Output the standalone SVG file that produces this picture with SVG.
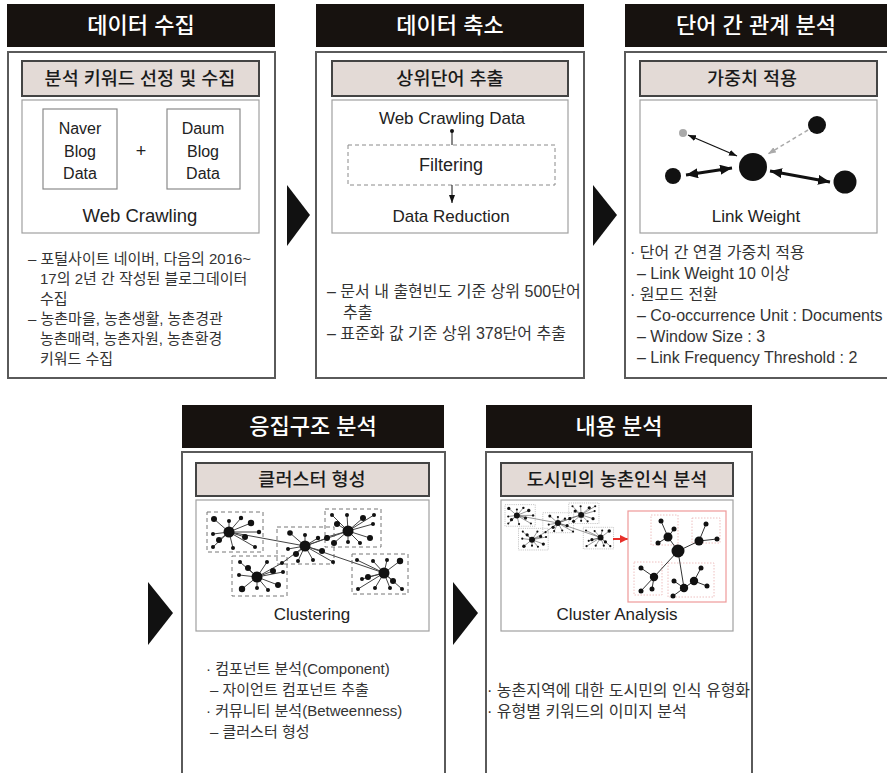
<svg xmlns="http://www.w3.org/2000/svg" xmlns:xlink="http://www.w3.org/1999/xlink" width="887" height="773" viewBox="0 0 887 773">
  <style>
    .hdr { fill: #17120f; }
    .hdr-t { fill: #ffffff; font-family: "Liberation Sans", "Noto Sans CJK KR", sans-serif; font-size: 22px; font-weight: 500; text-anchor: middle; }
    .panel { fill: #ffffff; stroke: #5a5a5a; stroke-width: 2; }
    .sub { fill: #e3dad6; stroke: #444; stroke-width: 2; }
    .sub-t { fill: #1a1a1a; font-family: "Liberation Sans", "Noto Sans CJK KR", sans-serif; font-size: 18.5px; font-weight: 500; text-anchor: middle; }
    .inner { fill: #ffffff; stroke: #a0a0a0; stroke-width: 1.2; }
    .lbl { fill: #222; font-family: "Liberation Sans", "Noto Sans CJK KR", sans-serif; font-size: 17px; text-anchor: middle; }
    .body { fill: #333; font-family: "Liberation Sans", "Noto Sans CJK KR", sans-serif; font-size: 15px; }
    .body-l { font-size: 16px; }
    .src { fill: #ffffff; stroke: #8a8a8a; stroke-width: 1.2; }
    .box { fill: none; }
  </style>
  <defs>
    <marker id="headBig" markerUnits="userSpaceOnUse" viewBox="0 0 12 10" refX="12" refY="5" markerWidth="12" markerHeight="10" orient="auto-start-reverse">
      <path d="M0,0 L12,5 L0,10 Z" fill="#111"/>
    </marker>
    <marker id="headSmall" markerUnits="userSpaceOnUse" viewBox="0 0 8 6" refX="8" refY="3" markerWidth="8" markerHeight="6" orient="auto-start-reverse">
      <path d="M0,0 L8,3 L0,6 Z" fill="#111"/>
    </marker>
    <marker id="headGray" markerUnits="userSpaceOnUse" viewBox="0 0 8 6" refX="8" refY="3" markerWidth="8" markerHeight="6" orient="auto">
      <path d="M0,0 L8,3 L0,6 Z" fill="#aaa"/>
    </marker>
    <marker id="headRed" markerUnits="userSpaceOnUse" viewBox="0 0 8 8" refX="8" refY="4" markerWidth="8" markerHeight="8" orient="auto">
      <path d="M0,0 L8,4 L0,8 Z" fill="#e8302a"/>
    </marker>

    <!-- network of five star clusters; box strokes come from the referencing <use> -->
    <g id="net">
      <g class="box">
        <rect x="207" y="512" width="56" height="40"/>
        <rect x="277" y="527" width="57" height="37"/>
        <rect x="325" y="509" width="56" height="38"/>
        <rect x="232" y="556" width="55" height="40"/>
        <rect x="352" y="554" width="56" height="40"/>
      </g>
      <g stroke="#444" stroke-width="1" fill="none" stroke-dasharray="none">
        <path d="M229,532 L305,546 M305,546 L348,531 M305,546 L384,573 M305,546 L282,563"/>
        <path d="M229,532 L214,519 M229,532 L229,521 M229,532 L241,518 M229,532 L251,523 M229,532 L213,534 M229,532 L219,540 M229,532 L213,547 M229,532 L233,548 M229,532 L245,537 M229,532 L255,547 M229,532 L259,532"/>
        <path d="M305,546 L290,533 M305,546 L305,535 M305,546 L318,538 M305,546 L327,538 M305,546 L288,549 M305,546 L296,554 M305,546 L298,561 M305,546 L313,560 M305,546 L322,551 M305,546 L333,562"/>
        <path d="M348,531 L332,515 M348,531 L347,515 M348,531 L363,518 M348,531 L374,515 M348,531 L337,524 M348,531 L373,524 M348,531 L334,543 M348,531 L348,542 M348,531 L360,543 M348,531 L370,538 M348,531 L327,537"/>
        <path d="M257,577 L240,562 M257,577 L248,568 M257,577 L267,562 M257,577 L282,563 M257,577 L239,575 M257,577 L273,571 M257,577 L278,585 M257,577 L242,589 M257,577 L257,588 M257,577 L268,590 M257,577 L283,572"/>
        <path d="M384,573 L357,560 M384,573 L373,561 M384,573 L387,560 M384,573 L400,561 M384,573 L362,579 M384,573 L368,577 M384,573 L375,588 M384,573 L358,589 M384,573 L393,581 M384,573 L402,589 M384,573 L390,588"/>
      </g>
      <g fill="#111" stroke="none">
        <circle cx="229" cy="532" r="5.5"/><circle cx="305" cy="546" r="5.5"/><circle cx="348" cy="531" r="5.5"/><circle cx="257" cy="577" r="5.5"/><circle cx="384" cy="573" r="5.5"/>
        <circle cx="214" cy="519" r="3"/><circle cx="229" cy="521" r="2"/><circle cx="241" cy="518" r="2.2"/><circle cx="251" cy="523" r="3.2"/><circle cx="213" cy="534" r="2"/><circle cx="219" cy="540" r="3"/><circle cx="213" cy="547" r="2"/><circle cx="233" cy="548" r="2"/><circle cx="245" cy="537" r="3"/><circle cx="255" cy="547" r="2"/><circle cx="259" cy="532" r="2.2"/>
        <circle cx="290" cy="533" r="2.8"/><circle cx="305" cy="535" r="2"/><circle cx="318" cy="538" r="2.2"/><circle cx="327" cy="538" r="3"/><circle cx="288" cy="549" r="2"/><circle cx="296" cy="554" r="3"/><circle cx="298" cy="561" r="2"/><circle cx="313" cy="560" r="2"/><circle cx="322" cy="551" r="3"/><circle cx="333" cy="562" r="2"/>
        <circle cx="332" cy="515" r="2"/><circle cx="347" cy="515" r="2"/><circle cx="363" cy="518" r="3"/><circle cx="374" cy="515" r="2"/><circle cx="337" cy="524" r="3"/><circle cx="373" cy="524" r="2"/><circle cx="334" cy="543" r="3"/><circle cx="348" cy="542" r="2"/><circle cx="360" cy="543" r="2"/><circle cx="370" cy="538" r="3"/><circle cx="327" cy="537" r="2"/>
        <circle cx="240" cy="562" r="2"/><circle cx="248" cy="568" r="3"/><circle cx="267" cy="562" r="2"/><circle cx="282" cy="563" r="2"/><circle cx="239" cy="575" r="2"/><circle cx="273" cy="571" r="3"/><circle cx="278" cy="585" r="3"/><circle cx="242" cy="589" r="3.2"/><circle cx="257" cy="588" r="2"/><circle cx="268" cy="590" r="2"/><circle cx="283" cy="572" r="2"/>
        <circle cx="357" cy="560" r="2"/><circle cx="373" cy="561" r="2"/><circle cx="387" cy="560" r="2"/><circle cx="400" cy="561" r="3.2"/><circle cx="362" cy="579" r="2"/><circle cx="368" cy="577" r="3"/><circle cx="375" cy="588" r="2"/><circle cx="358" cy="589" r="2"/><circle cx="393" cy="581" r="3"/><circle cx="402" cy="589" r="2"/><circle cx="390" cy="588" r="2"/>
      </g>
    </g>
  </defs>

  <rect width="887" height="773" fill="#ffffff"/>

  <!-- step 1: data collection -->
  <g id="collect">
    <rect class="hdr" x="7" y="4" width="268" height="43"/>
    <text class="hdr-t" x="141" y="33">데이터 수집</text>
    <rect class="panel" x="8" y="52" width="267" height="326"/>
    <rect class="sub" x="22" y="61" width="237" height="35"/>
    <text class="sub-t" x="140" y="85">분석 키워드 선정 및 수집</text>
    <rect class="inner" x="22" y="100" width="237" height="133"/>
    <rect class="src" x="43" y="109" width="74" height="80"/>
    <text class="lbl" x="80" y="134" style="font-size:16px">Naver</text>
    <text class="lbl" x="80" y="157" style="font-size:16px">Blog</text>
    <text class="lbl" x="80" y="179" style="font-size:16px">Data</text>
    <text class="lbl" x="141" y="157" style="font-size:18px">+</text>
    <rect class="src" x="167" y="109" width="73" height="80"/>
    <text class="lbl" x="203" y="134" style="font-size:16px">Daum</text>
    <text class="lbl" x="203" y="157" style="font-size:16px">Blog</text>
    <text class="lbl" x="203" y="179" style="font-size:16px">Data</text>
    <text class="lbl" x="140" y="222" style="font-size:18.5px">Web Crawling</text>
    <text class="body" x="28" y="264">– 포털사이트 네이버, 다음의 2016~</text>
    <text class="body" x="40" y="284">17의 2년 간 작성된 블로그데이터</text>
    <text class="body" x="40" y="304">수집</text>
    <text class="body" x="28" y="324">– 농촌마을, 농촌생활, 농촌경관</text>
    <text class="body" x="40" y="344">농촌매력, 농촌자원, 농촌환경</text>
    <text class="body" x="40" y="364">키워드 수집</text>
  </g>

  <!-- step 2: data reduction -->
  <g id="reduce">
    <rect class="hdr" x="316" y="4" width="268" height="43"/>
    <text class="hdr-t" x="450" y="33">데이터 축소</text>
    <rect class="panel" x="316" y="52" width="268" height="326"/>
    <rect class="sub" x="332" y="61" width="236" height="35"/>
    <text class="sub-t" x="450" y="85">상위단어 추출</text>
    <rect class="inner" x="332" y="100" width="236" height="133"/>
    <text class="lbl" x="452" y="124">Web Crawling Data</text>
    <circle cx="452" cy="131" r="2" fill="#111"/>
    <line x1="452" y1="131" x2="452" y2="145" stroke="#111" stroke-width="1"/>
    <rect x="348" y="145" width="207" height="40" fill="none" stroke="#8a8a8a" stroke-width="1" stroke-dasharray="4 3"/>
    <text class="lbl" x="451" y="171" style="font-size:18px">Filtering</text>
    <line x1="452" y1="185" x2="452" y2="203" stroke="#111" stroke-width="1" marker-end="url(#headSmall)"/>
    <text class="lbl" x="451" y="222">Data Reduction</text>
    <text class="body body-l" x="327" y="297">– 문서 내 출현빈도 기준 상위 500단어</text>
    <text class="body body-l" x="343" y="318">추출</text>
    <text class="body body-l" x="327" y="339">– 표준화 값 기준 상위 378단어 추출</text>
  </g>

  <!-- step 3: relations between words -->
  <g id="relate">
    <rect class="hdr" x="625" y="4" width="270" height="43"/>
    <text class="hdr-t" x="756" y="33">단어 간 관계 분석</text>
    <rect class="panel" x="625" y="52" width="270" height="326"/>
    <rect class="sub" x="640" y="61" width="237" height="35"/>
    <text class="sub-t" x="752" y="85">가중치 적용</text>
    <rect class="inner" x="640" y="100" width="237" height="133"/>
    <line x1="688" y1="135" x2="737" y2="156" stroke="#111" stroke-width="1.3" marker-start="url(#headSmall)" marker-end="url(#headSmall)"/>
    <line x1="808" y1="130" x2="768" y2="154" stroke="#aaa" stroke-width="1.5" stroke-dasharray="4 3" marker-end="url(#headGray)"/>
    <line x1="686" y1="175" x2="732" y2="168" stroke="#111" stroke-width="3" marker-start="url(#headBig)" marker-end="url(#headBig)"/>
    <line x1="770" y1="171" x2="830" y2="182" stroke="#111" stroke-width="3" marker-start="url(#headBig)" marker-end="url(#headBig)"/>
    <circle cx="683" cy="133" r="4" fill="#aaa"/>
    <circle cx="817" cy="125" r="9" fill="#111"/>
    <circle cx="753" cy="167" r="14" fill="#111"/>
    <circle cx="673" cy="176" r="8" fill="#111"/>
    <circle cx="845" cy="182" r="11.5" fill="#111"/>
    <text class="lbl" x="756" y="222">Link Weight</text>
    <text class="body body-l" x="630" y="258">· 단어 간 연결 가중치 적용</text>
    <text class="body body-l" x="637" y="279">– Link Weight 10 이상</text>
    <text class="body body-l" x="630" y="300">· 원모드 전환</text>
    <text class="body body-l" x="637" y="321">– Co-occurrence Unit : Documents</text>
    <text class="body body-l" x="637" y="342">– Window Size : 3</text>
    <text class="body body-l" x="637" y="363">– Link Frequency Threshold : 2</text>
  </g>

  <!-- step 4: cohesive structure -->
  <g id="cluster">
    <rect class="hdr" x="182" y="405" width="262" height="43"/>
    <text class="hdr-t" x="313" y="434">응집구조 분석</text>
    <rect class="panel" x="182" y="452" width="263" height="330"/>
    <rect class="sub" x="196" y="463" width="233" height="33"/>
    <text class="sub-t" x="312" y="486">클러스터 형성</text>
    <rect class="inner" x="196" y="500" width="233" height="131"/>
    <use xlink:href="#net" stroke="#777" stroke-width="1" stroke-dasharray="4 3"/>
    <text class="lbl" x="312" y="620">Clustering</text>
    <text class="body" x="206" y="674">· 컴포넌트 분석(Component)</text>
    <text class="body" x="210" y="695">– 자이언트 컴포넌트 추출</text>
    <text class="body" x="206" y="716">· 커뮤니티 분석(Betweenness)</text>
    <text class="body" x="210" y="737">– 클러스터 형성</text>
  </g>

  <!-- step 5: content analysis -->
  <g id="content">
    <rect class="hdr" x="486" y="405" width="266" height="43"/>
    <text class="hdr-t" x="619" y="434">내용 분석</text>
    <rect class="panel" x="486" y="452" width="266" height="330"/>
    <rect class="sub" x="501" y="463" width="232" height="33"/>
    <text class="sub-t" x="617" y="486">도시민의 농촌인식 분석</text>
    <rect class="inner" x="501" y="500" width="232" height="131"/>
    <use xlink:href="#net" transform="translate(505,503) scale(0.54) translate(-207,-509)" stroke="#bbb" stroke-width="1.6" stroke-dasharray="2 2"/>
    <line x1="613" y1="539" x2="628" y2="539" stroke="#e8302a" stroke-width="2" marker-end="url(#headRed)"/>
    <rect x="628" y="511" width="98" height="91" fill="none" stroke="#e99" stroke-width="1.2"/>
    <g fill="none" stroke="#eab0b0" stroke-width="0.8" stroke-dasharray="1.5 1.5">
      <rect x="651" y="515" width="27" height="30"/>
      <rect x="692" y="518" width="28" height="25"/>
      <rect x="634" y="562" width="28" height="33"/>
      <rect x="668" y="563" width="46" height="34"/>
    </g>
    <g stroke="#333" stroke-width="1" fill="none">
      <path d="M678,551 L668,537 M678,551 L699,541 M678,551 L654,577 M678,551 L684,588"/>
      <path d="M668,537 L661,521 M668,537 L674,529 M668,537 L658,543"/>
      <path d="M699,541 L706,524 M699,541 L717,539"/>
      <path d="M654,577 L641,568 M654,577 L641,591 M654,577 L652,589"/>
      <path d="M684,588 L694,581 M684,588 L674,581 M684,588 L673,596 M694,581 L701,568 M694,581 L707,586"/>
    </g>
    <g fill="#111">
      <circle cx="678" cy="551" r="6.5"/>
      <circle cx="668" cy="537" r="4.5"/><circle cx="661" cy="521" r="2.5"/><circle cx="674" cy="529" r="2.5"/><circle cx="658" cy="543" r="2.5"/>
      <circle cx="699" cy="541" r="4.5"/><circle cx="706" cy="524" r="2.5"/><circle cx="717" cy="539" r="2.5"/>
      <circle cx="654" cy="577" r="4.2"/><circle cx="641" cy="568" r="2.5"/><circle cx="641" cy="591" r="2.5"/><circle cx="652" cy="589" r="2.5"/>
      <circle cx="684" cy="588" r="4.2"/><circle cx="694" cy="581" r="4.2"/><circle cx="674" cy="581" r="2.5"/><circle cx="673" cy="596" r="2.5"/><circle cx="701" cy="568" r="2.5"/><circle cx="707" cy="586" r="2.5"/>
    </g>
    <text class="lbl" x="617" y="620">Cluster Analysis</text>
    <text class="body body-l" x="487" y="696">· 농촌지역에 대한 도시민의 인식 유형화</text>
    <text class="body body-l" x="487" y="717">· 유형별 키워드의 이미지 분석</text>
  </g>

  <!-- flow arrows between steps -->
  <g id="flow" fill="#111">
    <path d="M287,185 L310,215 L287,246 Z"/>
    <path d="M593,185 L617,215 L593,246 Z"/>
    <path d="M148,582 L173,613 L148,645 Z"/>
    <path d="M453,582 L478,613 L453,645 Z"/>
  </g>
</svg>
